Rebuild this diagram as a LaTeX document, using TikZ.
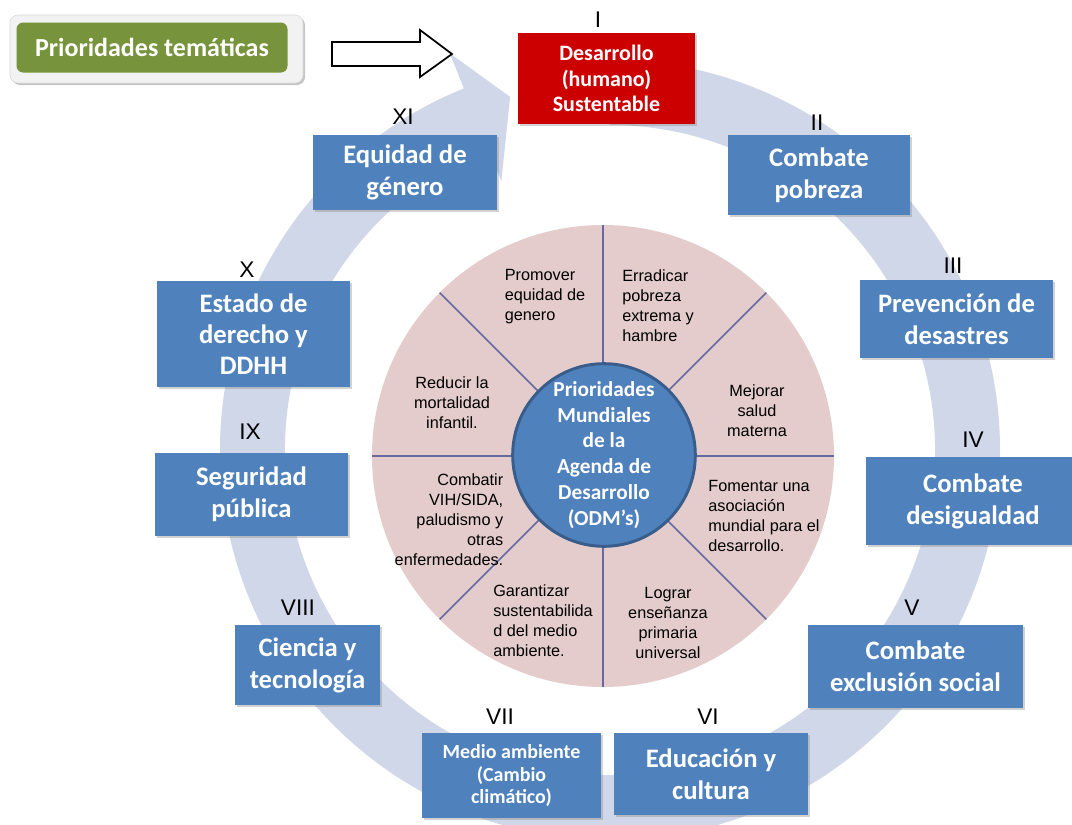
\documentclass[tikz,border=0pt]{standalone}
\usepackage{fontspec}
\setmainfont{Carlito}
\newfontfamily\arialf{Liberation Sans}
\usetikzlibrary{shadows}
\definecolor{ringc}{RGB}{208,215,232}
\definecolor{piec}{RGB}{229,204,204}
\definecolor{boxblue}{RGB}{79,129,189}
\definecolor{circborder}{RGB}{56,93,138}
\definecolor{divc}{RGB}{100,106,160}
\definecolor{redc}{RGB}{204,0,0}
\definecolor{greenc}{RGB}{119,147,60}
\definecolor{framec}{RGB}{242,242,242}
\begin{document}
\begin{tikzpicture}[x=0.75pt,y=-0.75pt,
  bluebox/.style={rectangle, fill=boxblue, text=white, font=\bfseries\fontsize{20}{24}\selectfont, align=center, inner sep=0pt, drop shadow={shadow xshift=1.5pt, shadow yshift=-1.5pt, opacity=0.35}},
  numlab/.style={font=\arialf\fontsize{17}{19}\selectfont, inner sep=0pt},
  sectortext/.style={font=\arialf\fontsize{12.2}{15}\selectfont, inner sep=0pt, text=black},
  divline/.style={draw=divc, line width=1.1pt}
]
\useasboundingbox (0,0) rectangle (1072,825);
\fill[white] (0,0) rectangle (1072,825);
% circular arrow
\fill[ringc, shift={(610,450)}] (-90:390) arc[start angle=-90, end angle=248, radius=390]
  -- (248:428) -- (254.2:367) -- (248:290) -- (248:325)
  arc[start angle=248, end angle=-90, radius=325] -- cycle;
% pie
\coordinate (pc) at (603,456);
\fill[piec] (pc) circle[radius=231];
\foreach \a in {0,45,...,315} \draw[divline] (pc) -- ++(\a:231);
\node[circle, fill=boxblue, draw=circborder, line width=2.2pt, minimum size=137pt, inner sep=0pt,
  text=white, font=\bfseries\fontsize{16}{19.4}\selectfont, align=center] (center) at (604,455)
  {Prioridades\\Mundiales\\de la\\Agenda de\\Desarrollo\\(ODM’s)};
% sector texts
\node[sectortext, align=left] (s1) at (545,297) {Promover\\equidad de\\genero};
\node[sectortext, align=left] (s2) at (658,305.5) {Erradicar\\pobreza\\extrema y\\hambre};
\node[sectortext, align=center] (s3) at (757,411) {Mejorar\\salud\\materna};
\node[sectortext, align=left] (s4) at (764,516) {Fomentar una\\asociación\\mundial para el\\desarrollo.};
\node[sectortext, align=center] (s5) at (668,623) {Lograr\\enseñanza\\primaria\\universal};
\node[sectortext, align=left] (s6) at (543,621) {Garantizar\\sustentabilida\\d del medio\\ambiente.};
\node[sectortext, align=right] (s7) at (449,520) {Combatir\\VIH/SIDA,\\paludismo y\\otras\\enfermedades.};
\node[sectortext, align=center] (s8) at (452,403) {Reducir la\\mortalidad\\infantil.};
% title
\node[rectangle, rounded corners=6pt, fill=framec, draw=black!15, minimum width=219.75pt, minimum height=51pt,
  drop shadow={shadow xshift=1.5pt, shadow yshift=-1.5pt, opacity=0.45}] (frame) at (156.5,49) {};
\node[rectangle, rounded corners=5pt, fill=greenc, minimum width=203.25pt, minimum height=37.5pt, inner sep=0pt,
  text=white, font=\bfseries\fontsize{19.5}{22}\selectfont] (title) at (152,47.5) {Prioridades temáticas};
\draw[line width=1.3pt, fill=white] (332,42) -- (420,42) -- (420,30) -- (452,54) -- (420,77) -- (420,66) -- (332,66) -- cycle;
% boxes
\node[bluebox, fill=redc, minimum width=132.75pt, minimum height=68.25pt, font=\bfseries\fontsize{16.5}{19}\selectfont] (b1) at (606.5,78.5) {Desarrollo\\(humano)\\Sustentable};
\node[bluebox, minimum width=136.5pt, minimum height=60pt] (b2) at (819,175) {Combate\\pobreza};
\node[bluebox, minimum width=144.75pt, minimum height=58.5pt] (b3) at (956.5,319) {Prevención de\\desastres};
\node[bluebox, minimum width=160.5pt, minimum height=66pt] (b4) at (973,501) {Combate\\desigualdad};
\node[bluebox, minimum width=161.25pt, minimum height=62.25pt] (b5) at (915.5,666.5) {Combate\\exclusión social};
\node[bluebox, minimum width=145.5pt, minimum height=61.5pt] (b6) at (711,774) {Educación y\\cultura};
\node[bluebox, minimum width=134.25pt, minimum height=63.75pt, font=\bfseries\fontsize{15}{17}\selectfont] (b7) at (511.5,775.5) {Medio ambiente\\(Cambio\\climático)};
\node[bluebox, minimum width=108.75pt, minimum height=60pt] (b8) at (307.5,665) {Ciencia y\\tecnología};
\node[bluebox, minimum width=144.75pt, minimum height=62.25pt] (b9) at (251.5,494.5) {Seguridad\\pública};
\node[bluebox, minimum width=144.75pt, minimum height=79.5pt, font=\bfseries\fontsize{20}{23}\selectfont] (b10) at (253.5,334) {Estado de\\derecho y\\DDHH};
\node[bluebox, minimum width=138pt, minimum height=56.25pt] (b11) at (405,172.5) {Equidad de\\género};
% numerals
\node[numlab] (l1) at (598,20) {I};
\node[numlab] (l2) at (817,123) {II};
\node[numlab] (l3) at (953,266) {III};
\node[numlab] (l4) at (973,440) {IV};
\node[numlab] (l5) at (912,608) {V};
\node[numlab] (l6) at (708,717) {VI};
\node[numlab] (l7) at (500,717) {VII};
\node[numlab] (l8) at (298,608) {VIII};
\node[numlab] (l9) at (250,432) {IX};
\node[numlab] (l10) at (247,270) {X};
\node[numlab] (l11) at (403,117) {XI};
\end{tikzpicture}
\end{document}
